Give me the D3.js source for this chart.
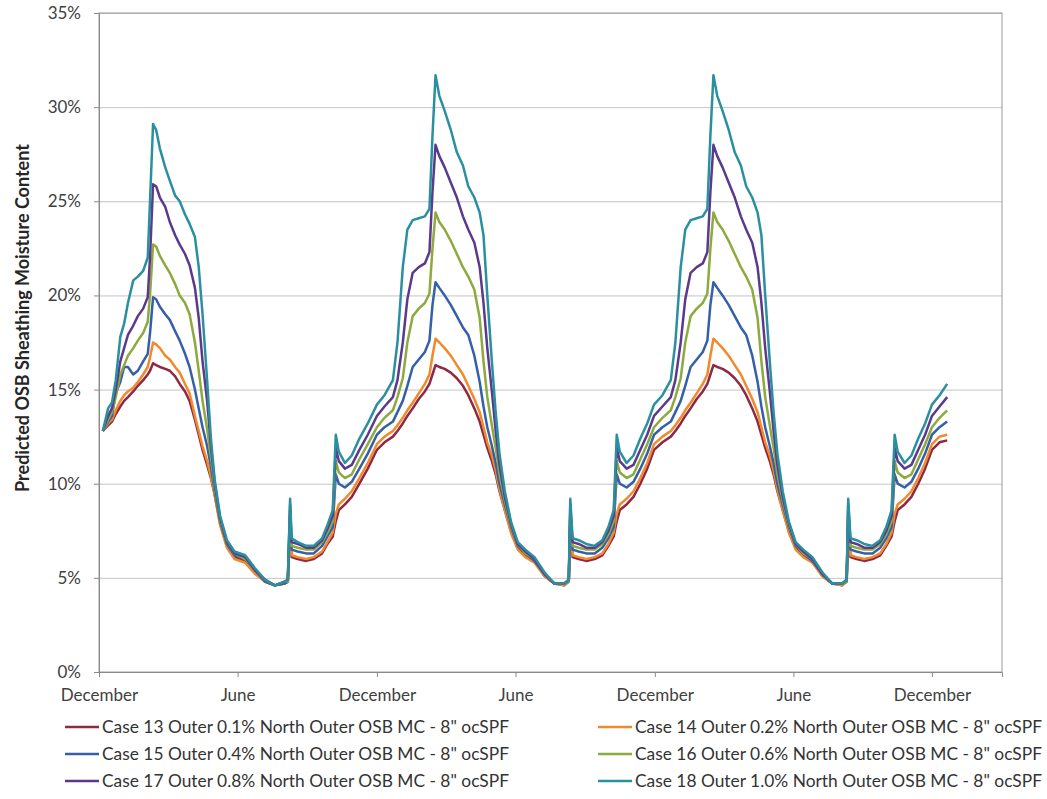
<!DOCTYPE html>
<html>
<head>
<meta charset="utf-8">
<script src="https://d3js.org/d3.v7.min.js"></script>
<style>
  body { margin: 0; background: #fff; }
  svg text { font-family: Lato, "Open Sans", sans-serif; }
</style>
</head>
<body>
<svg id="chart" width="1047" height="799"></svg>
<script>
// x values: days since the first December tick
const days = [
  // year 1
  5, 12, 17, 22, 28, 33, 38, 45, 51, 58, 64, 67, 71, 75, 80, 87, 93, 100, 106, 113,
  119, 126, 131, 136, 142, 147, 152, 159, 168, 178, 192, 205, 218, 231, 244, 248, 251, 253, 261, 272,
  282, 293, 300, 307, 311, 315, 323, 332, 342, 353, 365,
  // year 2
  375, 386, 392, 399, 405, 412, 420, 428, 434, 438, 442, 447, 454, 462, 470, 478, 485, 493,
  500, 505, 510, 516, 521, 526, 533, 541, 550, 560, 572, 585, 598, 611, 617, 619, 622, 630,
  640, 651, 661, 669, 676, 680, 684, 693, 702, 711, 720, 729,
  // year 3
  740, 751, 757, 764, 770, 777, 785, 793, 799, 803, 807, 812, 819, 827, 835, 843, 850, 858,
  865, 870, 875, 881, 886, 891, 898, 906, 915, 925, 937, 950, 963, 976, 982, 984, 987, 995,
  1005, 1016, 1026, 1034, 1041, 1045, 1049, 1058, 1067, 1076, 1085, 1094, 1104, 1114
];

// moisture content, %
const case13 = [
  12.8, 13.1, 13.3, 13.7, 14.1, 14.4, 14.6, 14.9, 15.2, 15.5, 15.8, 16.0, 16.4, 16.3, 16.2, 16.1, 16.0, 15.7, 15.3, 14.9,
  14.4, 13.4, 12.6, 11.8, 11.0, 10.3, 9.4, 7.9, 6.7, 6.1, 5.9, 5.3, 4.8, 4.6, 4.7, 4.8, 7.7, 6.1, 6.0, 5.9,
  6.0, 6.3, 6.8, 7.2, 8.0, 8.6, 8.9, 9.3, 10.0, 10.8, 11.8,
  12.2, 12.5, 12.8, 13.2, 13.6, 14.0, 14.5, 14.9, 15.3, 15.8, 16.3, 16.2, 16.1, 15.9, 15.6, 15.2, 14.7, 14.0,
  13.3, 12.6, 11.9, 11.2, 10.5, 9.6, 8.6, 7.5, 6.6, 6.2, 5.9, 5.1, 4.7, 4.6, 4.8, 7.7, 6.1, 6.0,
  5.9, 6.0, 6.2, 6.7, 7.2, 8.0, 8.6, 8.9, 9.3, 10.0, 10.8, 11.8,
  12.2, 12.5, 12.8, 13.2, 13.6, 14.0, 14.5, 14.9, 15.3, 15.8, 16.3, 16.2, 16.1, 15.9, 15.6, 15.2, 14.7, 14.0,
  13.3, 12.6, 11.9, 11.2, 10.5, 9.6, 8.6, 7.5, 6.6, 6.2, 5.9, 5.1, 4.7, 4.6, 4.8, 7.7, 6.1, 6.0,
  5.9, 6.0, 6.2, 6.7, 7.2, 8.0, 8.6, 8.9, 9.3, 10.0, 10.8, 11.8, 12.2, 12.3
];
const case14 = [
  12.8, 13.2, 13.4, 13.9, 14.4, 14.7, 14.9, 15.1, 15.4, 15.8, 16.2, 16.7, 17.5, 17.4, 17.2, 16.8, 16.6, 16.2, 15.9, 15.3,
  14.8, 13.6, 12.8, 12.0, 11.2, 10.4, 9.4, 7.8, 6.6, 6.0, 5.8, 5.2, 4.8, 4.6, 4.7, 4.8, 7.9, 6.2, 6.1, 6.0,
  6.1, 6.4, 6.9, 7.4, 8.4, 8.9, 9.2, 9.6, 10.3, 11.1, 12.1,
  12.5, 12.8, 13.1, 13.5, 13.9, 14.3, 14.8, 15.3, 15.8, 16.8, 17.7, 17.5, 17.2, 16.8, 16.3, 15.8, 15.2, 14.5,
  13.8, 13.0, 12.2, 11.5, 10.7, 9.7, 8.6, 7.4, 6.5, 6.1, 5.8, 5.1, 4.7, 4.6, 4.8, 7.9, 6.2, 6.1,
  6.0, 6.1, 6.3, 6.8, 7.4, 8.4, 8.9, 9.2, 9.6, 10.3, 11.1, 12.1,
  12.5, 12.8, 13.1, 13.5, 13.9, 14.3, 14.8, 15.3, 15.8, 16.8, 17.7, 17.5, 17.2, 16.8, 16.3, 15.8, 15.2, 14.5,
  13.8, 13.0, 12.2, 11.5, 10.7, 9.7, 8.6, 7.4, 6.5, 6.1, 5.8, 5.1, 4.7, 4.6, 4.8, 7.9, 6.2, 6.1,
  6.0, 6.1, 6.3, 6.8, 7.4, 8.4, 8.9, 9.2, 9.6, 10.3, 11.1, 12.1, 12.5, 12.6
];
const case15 = [
  12.8, 13.3, 13.6, 14.8, 15.4, 16.2, 16.2, 15.8, 16.0, 16.5, 16.9, 18.0, 19.9, 19.8, 19.4, 19.0, 18.7, 18.1, 17.6, 16.9,
  16.2, 15.0, 14.0, 13.0, 12.0, 10.9, 9.6, 8.0, 6.8, 6.2, 6.0, 5.4, 4.8, 4.6, 4.7, 4.8, 8.3, 6.5, 6.4, 6.3,
  6.3, 6.7, 7.2, 7.7, 10.5, 10.0, 9.8, 10.1, 10.8, 11.6, 12.6,
  13.0, 13.3, 13.8, 14.4, 15.2, 16.2, 16.6, 17.0, 17.6, 19.5, 20.7, 20.4, 20.0, 19.5, 18.9, 18.3, 17.9, 16.8,
  15.4, 14.1, 13.0, 12.0, 11.1, 10.0, 8.9, 7.7, 6.7, 6.3, 5.9, 5.2, 4.7, 4.7, 4.8, 8.3, 6.5, 6.4,
  6.3, 6.3, 6.6, 7.1, 7.7, 10.5, 10.0, 9.8, 10.1, 10.8, 11.6, 12.6,
  13.0, 13.3, 13.8, 14.4, 15.2, 16.2, 16.6, 17.0, 17.6, 19.5, 20.7, 20.4, 20.0, 19.5, 18.9, 18.3, 17.9, 16.8,
  15.4, 14.1, 13.0, 12.0, 11.1, 10.0, 8.9, 7.7, 6.7, 6.3, 5.9, 5.2, 4.7, 4.7, 4.8, 8.3, 6.5, 6.4,
  6.3, 6.3, 6.6, 7.1, 7.7, 10.5, 10.0, 9.8, 10.1, 10.8, 11.6, 12.6, 13.0, 13.3
];
const case16 = [
  12.8, 13.4, 13.8, 14.6, 15.8, 16.3, 16.8, 17.2, 17.6, 18.0, 18.6, 20.0, 22.7, 22.6, 22.1, 21.6, 21.2, 20.6, 20.0, 19.6,
  19.0, 17.5, 16.0, 14.4, 12.9, 11.4, 9.8, 8.1, 6.9, 6.3, 6.0, 5.4, 4.9, 4.6, 4.8, 4.8, 8.6, 6.7, 6.6, 6.5,
  6.5, 6.9, 7.4, 8.0, 11.2, 10.6, 10.3, 10.5, 11.3, 12.1, 13.0,
  13.5, 13.9, 14.6, 15.6, 17.5, 18.9, 19.3, 19.6, 20.1, 22.5, 24.4, 23.9, 23.5, 22.9, 22.2, 21.5, 21.0, 20.3,
  18.8, 16.5, 14.6, 13.1, 11.9, 10.5, 9.1, 7.8, 6.8, 6.3, 6.0, 5.2, 4.7, 4.7, 4.8, 8.6, 6.7, 6.6,
  6.5, 6.5, 6.8, 7.3, 8.0, 11.2, 10.6, 10.3, 10.5, 11.3, 12.1, 13.0,
  13.5, 13.9, 14.6, 15.6, 17.5, 18.9, 19.3, 19.6, 20.1, 22.5, 24.4, 23.9, 23.5, 22.9, 22.2, 21.5, 21.0, 20.3,
  18.8, 16.5, 14.6, 13.1, 11.9, 10.5, 9.1, 7.8, 6.8, 6.3, 6.0, 5.2, 4.7, 4.7, 4.8, 8.6, 6.7, 6.6,
  6.5, 6.5, 6.8, 7.3, 8.0, 11.2, 10.6, 10.3, 10.5, 11.3, 12.1, 13.0, 13.5, 13.9
];
const case17 = [
  12.8, 13.6, 14.0, 15.0, 16.5, 17.2, 17.9, 18.4, 18.9, 19.3, 19.9, 22.0, 25.9, 25.8, 25.2, 24.7, 23.9, 23.2, 22.7, 22.2,
  21.6, 20.4, 18.8, 16.5, 14.4, 12.0, 10.0, 8.2, 6.9, 6.3, 6.1, 5.4, 4.9, 4.6, 4.8, 4.9, 8.9, 6.9, 6.8, 6.6,
  6.6, 7.0, 7.6, 8.3, 11.9, 11.2, 10.8, 11.0, 11.8, 12.6, 13.6,
  14.1, 14.6, 15.5, 17.5, 19.8, 21.2, 21.5, 21.7, 22.3, 25.5, 28.0, 27.4, 26.8, 26.0, 25.2, 24.2, 23.5, 22.8,
  21.5, 19.6, 17.2, 14.9, 12.8, 11.0, 9.3, 7.9, 6.8, 6.4, 6.0, 5.2, 4.7, 4.7, 4.9, 8.9, 6.9, 6.8,
  6.6, 6.6, 6.9, 7.5, 8.3, 11.9, 11.2, 10.8, 11.0, 11.8, 12.6, 13.6,
  14.1, 14.6, 15.5, 17.5, 19.8, 21.2, 21.5, 21.7, 22.3, 25.5, 28.0, 27.4, 26.8, 26.0, 25.2, 24.2, 23.5, 22.8,
  21.5, 19.6, 17.2, 14.9, 12.8, 11.0, 9.3, 7.9, 6.8, 6.4, 6.0, 5.2, 4.7, 4.7, 4.9, 8.9, 6.9, 6.8,
  6.6, 6.6, 6.9, 7.5, 8.3, 11.9, 11.2, 10.8, 11.0, 11.8, 12.6, 13.6, 14.1, 14.6
];
const case18 = [
  12.8, 14.0, 14.3, 15.5, 17.8, 18.5, 19.6, 20.8, 21.0, 21.3, 22.0, 25.0, 29.1, 28.8, 27.8, 26.8, 26.1, 25.3, 25.0, 24.3,
  23.8, 23.1, 21.5, 19.0, 15.5, 12.4, 10.2, 8.3, 7.0, 6.4, 6.2, 5.5, 4.9, 4.6, 4.8, 4.9, 9.2, 7.1, 6.9, 6.7,
  6.7, 7.1, 7.8, 8.6, 12.6, 11.7, 11.1, 11.5, 12.4, 13.2, 14.2,
  14.7, 15.5, 17.5, 21.5, 23.5, 24.0, 24.1, 24.2, 24.6, 28.5, 31.7, 30.6, 29.8, 28.8, 27.6, 26.9, 25.8, 25.2,
  24.4, 23.2, 20.0, 16.5, 13.8, 11.6, 9.6, 8.0, 6.9, 6.5, 6.1, 5.3, 4.7, 4.7, 4.9, 9.2, 7.1, 7.0,
  6.8, 6.7, 7.0, 7.7, 8.6, 12.6, 11.7, 11.1, 11.5, 12.4, 13.2, 14.2,
  14.7, 15.5, 17.5, 21.5, 23.5, 24.0, 24.1, 24.2, 24.6, 28.5, 31.7, 30.6, 29.8, 28.8, 27.6, 26.9, 25.8, 25.2,
  24.4, 23.2, 20.0, 16.5, 13.8, 11.6, 9.6, 8.0, 6.9, 6.5, 6.1, 5.3, 4.7, 4.7, 4.9, 9.2, 7.1, 7.0,
  6.8, 6.7, 7.0, 7.7, 8.6, 12.6, 11.7, 11.1, 11.5, 12.4, 13.2, 14.2, 14.7, 15.3
];

const seriesNames = [
  'Case 13 Outer 0.1% North Outer OSB MC - 8" ocSPF',
  'Case 14 Outer 0.2% North Outer OSB MC - 8" ocSPF',
  'Case 15 Outer 0.4% North Outer OSB MC - 8" ocSPF',
  'Case 16 Outer 0.6% North Outer OSB MC - 8" ocSPF',
  'Case 17 Outer 0.8% North Outer OSB MC - 8" ocSPF',
  'Case 18 Outer 1.0% North Outer OSB MC - 8" ocSPF'
];
const seriesValues = [case13, case14, case15, case16, case17, case18];
const seriesColors = ["#8e2843", "#f08a2c", "#3560a8", "#8daa3e", "#5b3a8c", "#2a90a0"];

const xTickDays = [0, 182, 365, 547, 730, 912, 1094];
const xTickLabels = ["December", "June", "December", "June", "December", "June", "December"];
const yTicks = [0, 5, 10, 15, 20, 25, 30, 35];

// layout
const plotL = 99, plotR = 1002, plotT = 13, plotB = 672;

const svg = d3.select("#chart");
svg.append("rect").attr("width", 1047).attr("height", 799).attr("fill", "#fff");

const x = d3.scaleLinear().domain([0, 1186]).range([plotL, plotR]);
const y = d3.scaleLinear().domain([0, 35]).range([plotB, plotT]);

// gridlines
svg.append("g")
  .attr("transform", "translate(" + plotL + ",0)")
  .call(d3.axisLeft(y).tickValues(yTicks).tickSize(-(plotR - plotL)).tickFormat(""))
  .call(g => g.select(".domain").remove())
  .call(g => g.selectAll("line").attr("stroke", "#c4c4c4").attr("stroke-width", 1));

// plot border
svg.append("rect")
  .attr("x", plotL).attr("y", plotT)
  .attr("width", plotR - plotL).attr("height", plotB - plotT)
  .attr("fill", "none").attr("stroke", "#9a9a9a").attr("stroke-width", 1);

// y axis
svg.append("g")
  .attr("transform", "translate(" + plotL + ",0)")
  .call(d3.axisLeft(y).tickValues(yTicks).tickSize(5).tickPadding(13).tickFormat(d => d + "%"))
  .call(g => g.select(".domain").attr("stroke", "#8a8a8a"))
  .call(g => g.selectAll("line").attr("stroke", "#8a8a8a"))
  .call(g => g.selectAll("text").attr("font-size", 17).attr("fill", "#404040")
    .attr("font-family", "Lato, sans-serif"));

// x axis
svg.append("g")
  .attr("transform", "translate(0," + plotB + ")")
  .call(d3.axisBottom(x).tickValues(xTickDays).tickSize(5).tickPadding(12)
    .tickFormat((d, i) => xTickLabels[i]))
  .call(g => g.select(".domain").attr("stroke", "#8a8a8a"))
  .call(g => g.selectAll("line").attr("stroke", "#8a8a8a"))
  .call(g => g.selectAll("text").attr("font-size", 17).attr("fill", "#404040")
    .attr("font-family", "Lato, sans-serif"));

// y title
svg.append("text")
  .attr("transform", "translate(29,318) rotate(-90)")
  .attr("text-anchor", "middle")
  .attr("font-size", 18)
  .attr("font-weight", "bold")
  .attr("fill", "#262626")
  .text("Predicted OSB Sheathing Moisture Content");

// lines
const line = d3.line()
  .x((d, i) => x(days[i]))
  .y(d => y(d));

seriesValues.forEach((vals, k) => {
  svg.append("path")
    .datum(vals)
    .attr("fill", "none")
    .attr("stroke", seriesColors[k])
    .attr("stroke-width", 2.5)
    .attr("stroke-linejoin", "round")
    .attr("d", line);
});

// legend
const legendCols = [{ sw: 65, tx: 102 }, { sw: 598, tx: 635 }];
const legendRows = [727, 754, 781];
seriesNames.forEach((name, k) => {
  const col = legendCols[k % 2];
  const ry = legendRows[Math.floor(k / 2)];
  svg.append("line")
    .attr("x1", col.sw).attr("x2", col.sw + 34)
    .attr("y1", ry).attr("y2", ry)
    .attr("stroke", seriesColors[k]).attr("stroke-width", 2.5);
  svg.append("text")
    .attr("x", col.tx).attr("y", ry + 6)
    .attr("font-size", 17)
    .attr("fill", "#333")
    .attr("textLength", 407)
    .attr("lengthAdjust", "spacingAndGlyphs")
    .text(name);
});
</script>
</body>
</html>
